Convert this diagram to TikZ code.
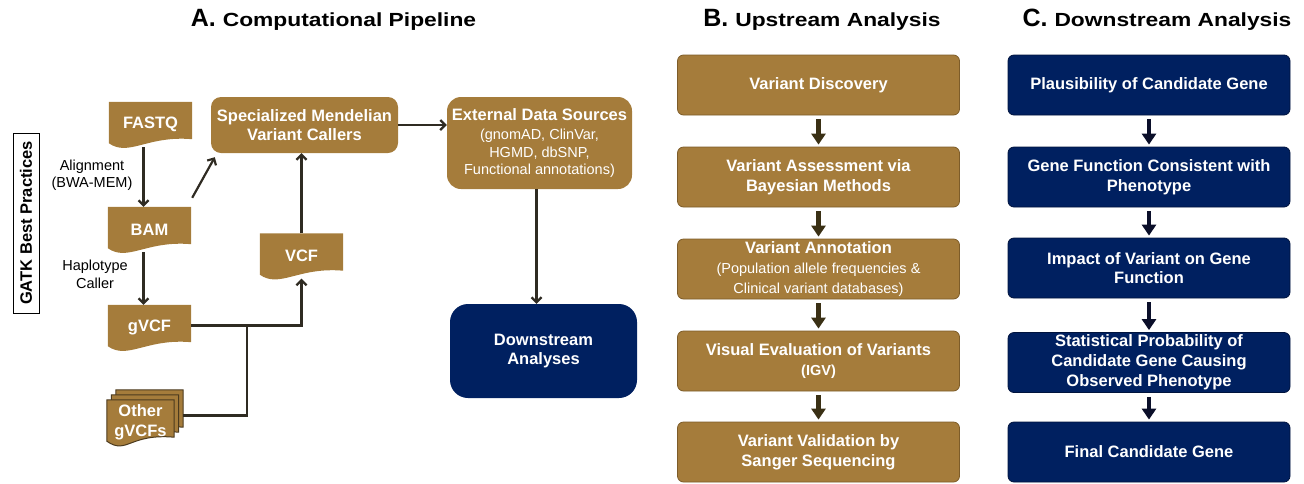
\documentclass[tikz,border=0pt]{standalone}
\usepackage{fontspec}
\setmainfont{Liberation Sans}
\usetikzlibrary{arrows.meta,calc,backgrounds,positioning}
\definecolor{gold}{HTML}{A57C3B}
\definecolor{goldline}{HTML}{7D5C29}
\definecolor{sheetline}{HTML}{4B3A1E}
\definecolor{navy}{HTML}{002060}
\definecolor{navyline}{HTML}{00133D}
\definecolor{darkline}{HTML}{2F2B22}
\definecolor{goldarrow}{HTML}{3A3015}
\definecolor{navyarrow}{HTML}{0B0F2A}
% document shape with a wavy bottom, filled behind a named node (#3 = offset)
\newcommand{\docbg}[3][]{%
  \begin{scope}[on background layer]
  \path[fill=gold,#1] ($(#2.north west)+(#3)$) -- ($(#2.north east)+(#3)$) -- ($(#2.south east)+(0,-8)+(#3)$) .. controls ($(#2.south east)+(-45,-12)+(#3)$) and ($(#2.south west)+(20,10)+(#3)$) .. ($(#2.south west)+(0,-4)+(#3)$) -- cycle;
  \end{scope}}
\newcommand{\boxfont}{\bfseries\fontsize{16.5}{19.8}\selectfont}
\newcommand{\subfont}{\fontsize{14.5}{17.4}\selectfont}
\begin{document}
\begin{tikzpicture}[x=1pt,y=1pt,yscale=-1,
    docnode/.style={minimum width=83pt,minimum height=45pt,inner sep=0pt,text=white,align=center,font=\boxfont},
    goldbox/.style={rectangle,rounded corners=6pt,fill=gold,draw=goldline,line width=0.8pt,text=white,align=center,font=\boxfont,minimum width=282pt,minimum height=60pt,inner sep=2pt},
    navybox/.style={goldbox,fill=navy,draw=navyline},
    thinarrow/.style={draw=darkline,line width=2.2pt,-{Straight Barb[length=5pt,width=10pt]}},
    thinline/.style={draw=darkline,line width=2.4pt},
    fatarrow/.style={line width=4.5pt,-{Triangle[width=14pt,length=11pt]},shorten <=4pt,shorten >=2pt},
    label/.style={align=center,font=\fontsize{14.5}{17.4}\selectfont,inner sep=0pt},
    title/.style={anchor=base,inner sep=0pt}]
  \useasboundingbox (0,0) rectangle (1304,483);

  % Titles
  \node[title] (titleA) at (333.5,26.5) {\bfseries\fontsize{25}{25}\selectfont A.\ \scalebox{1.2}[1]{\fontsize{19}{19}\selectfont Computational Pipeline}};
  \node[title] (titleB) at (822,26.5) {\bfseries\fontsize{25}{25}\selectfont B.\ \scalebox{1.2}[1]{\fontsize{19}{19}\selectfont Upstream Analysis}};
  \node[title] (titleC) at (1157,26.5) {\bfseries\fontsize{25}{25}\selectfont C.\ \scalebox{1.2}[1]{\fontsize{19}{19}\selectfont Downstream Analysis}};

  %% A. Computational pipeline
  \node[draw=black,line width=0.8pt,rotate=90,minimum width=180pt,minimum height=26pt,inner sep=0pt,font=\boxfont] (gatk) at (26,223) {GATK Best Practices};

  \node[docnode] (fastq) at (150.5,124.5) {FASTQ};
  \node[docnode] (bam) at (149.5,229.5) {BAM};
  \node[docnode] (gvcf) at (149.5,327.5) {gVCF};
  \node[docnode] (vcf) at (301.5,256) {VCF};
  \node[docnode,minimum width=67pt] (other) at (140.5,422.5) {Other\\gVCFs};
  \docbg{fastq}{0,0}
  \docbg{bam}{0,0}
  \docbg{gvcf}{0,0}
  \docbg{vcf}{0,0}
  % stacked sheets behind Other gVCFs
  \docbg[draw=sheetline,line width=1pt]{other}{9,-10}
  \docbg[draw=sheetline,line width=1pt]{other}{4.5,-5}
  \docbg[draw=sheetline,line width=1pt]{other}{0,0}

  \node[rectangle,rounded corners=10pt,fill=gold,minimum width=187pt,minimum height=56pt,text=white,align=center,font=\boxfont] (spec) at (304.5,125) {Specialized Mendelian\\Variant Callers};
  \node[rectangle,rounded corners=14pt,fill=gold,minimum width=185pt,minimum height=92pt,text=white,align=center,font=\subfont] (ext) at (539.5,143) {{\boxfont External Data Sources}\\[2pt](gnomAD, ClinVar,\\HGMD, dbSNP,\\Functional annotations)};
  \node[rectangle,rounded corners=18pt,fill=navy,minimum width=187pt,minimum height=94pt,text=white,align=center,font=\boxfont] (down) at (543.5,351) {Downstream\\Analyses};

  % Text Node
  \node[label] (align) at (92,175.5) {Alignment\\(BWA-MEM)};
  % Text Node
  \node[label] (haplo) at (95,274.5) {Haplotype\\Caller};

  % connectors
  \coordinate (jn) at ($(gvcf.east)+(55.5,-2)$);
  \draw[thinarrow] ([xshift=-6pt]bam.north |- fastq.south) -- ([xshift=-6pt]bam.north);
  \draw[thinarrow] ([xshift=-6pt]bam.south) -- ([xshift=-6pt]gvcf.north);
  \draw[thinarrow] ($(bam.north east)+(1,-9)$) -- ($(spec.south west)+(4,4)$);
  \draw[thinarrow] ($(gvcf.east)+(0,-2)$) -| (vcf.south);
  \draw[thinline] ($(other.east)+(9,-7)$) -| (jn);
  \draw[thinarrow] (vcf.north) -- (vcf.north |- spec.south);
  \draw[thinarrow] (spec.east) -- (spec.east -| ext.west);
  \draw[thinarrow] ([xshift=-3pt]ext.south) -- ([xshift=-3pt]ext.south |- down.north);

  %% B. Upstream analysis
  \node[goldbox] (b1) at (818.5,85) {Variant Discovery};
  \node[goldbox] (b2) at (818.5,177) {Variant Assessment via\\Bayesian Methods};
  \node[goldbox] (b3) at (818.5,269) {Variant Annotation\\{\mdseries\subfont (Population allele frequencies \&}\\{\mdseries\subfont Clinical variant databases)}};
  \node[goldbox] (b4) at (818.5,361) {Visual Evaluation of Variants\\{\subfont (IGV)}};
  \node[goldbox] (b5) at (818.5,452) {Variant Validation by\\Sanger Sequencing};
  \draw[fatarrow,goldarrow] (b1) -- (b2);
  \draw[fatarrow,goldarrow] (b2) -- (b3);
  \draw[fatarrow,goldarrow] (b3) -- (b4);
  \draw[fatarrow,goldarrow] (b4) -- (b5);

  %% C. Downstream analysis
  \node[navybox] (c1) at (1149,85) {Plausibility of Candidate Gene};
  \node[navybox] (c2) at (1149,177) {Gene Function Consistent with\\Phenotype};
  \node[navybox] (c3) at (1149,268) {Impact of Variant on Gene\\Function};
  \node[navybox] (c4) at (1149,362.5) {Statistical Probability of\\Candidate Gene Causing\\Observed Phenotype};
  \node[navybox] (c5) at (1149,452) {Final Candidate Gene};
  \draw[fatarrow,navyarrow] (c1) -- (c2);
  \draw[fatarrow,navyarrow] (c2) -- (c3);
  \draw[fatarrow,navyarrow] (c3) -- (c4);
  \draw[fatarrow,navyarrow] (c4) -- (c5);
\end{tikzpicture}
\end{document}
